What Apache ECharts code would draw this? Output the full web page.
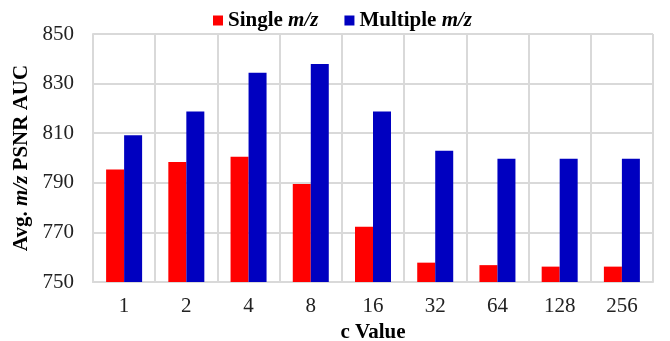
<!DOCTYPE html>
<html><head><meta charset="utf-8">
<script src="https://cdn.jsdelivr.net/npm/echarts@6/dist/echarts.min.js"></script>
<style>html,body{margin:0;padding:0;background:#fff}#c{width:670px;height:341px}</style>
</head><body><div id="c"></div>
<script>
const categories = ['1','2','4','8','16','32','64','128','256'];
const singleMz = [795.4, 798.4, 800.5, 789.5, 772.3, 757.8, 756.8, 756.2, 756.2];
const multipleMz = [809.2, 818.8, 834.4, 837.9, 818.8, 802.9, 799.7, 799.7, 799.7];
const seriesNames = ['Single m/z', 'Multiple m/z'];
const yTicks = {min: 750, max: 850, interval: 20};

const font = 'Liberation Serif';
const FS = 21;
const chart = echarts.init(document.getElementById('c'));
chart.setOption({
  animation: false,
  textStyle: {fontFamily: font},
  legend: {
    top: 5, left: 208, itemWidth: 10, itemHeight: 10, itemGap: 26,
    icon: 'rect',
    formatter: n => n.replace(' m/z', ' {i|m/z}').replace(/^(\S+) /, '{b|$1 }'),
    textStyle: {
      fontFamily: font, fontSize: FS, fontWeight: 'bold', color: '#000',
      rich: {
        b: {fontFamily: font, fontSize: FS, fontWeight: 'bold', color: '#000'},
        i: {fontFamily: font, fontSize: FS, fontWeight: 'bold', fontStyle: 'italic', color: '#000'}
      }
    }
  },
  grid: {left: 93, right: 17, top: 34, bottom: 59, containLabel: false, outerBoundsMode: 'none'},
  xAxis: {
    type: 'category', data: categories,
    name: 'c Value', nameLocation: 'middle', nameGap: 35,
    nameTextStyle: {fontFamily: font, fontSize: FS, fontWeight: 'bold', color: '#000'},
    axisLine: {lineStyle: {color: '#d9d9d9', width: 2}},
    axisTick: {show: false},
    axisLabel: {fontFamily: font, fontSize: FS, color: '#222', margin: 14},
    splitLine: {show: true, interval: 0, lineStyle: {color: '#d9d9d9', width: 2}}
  },
  yAxis: {
    type: 'value', min: yTicks.min, max: yTicks.max, interval: yTicks.interval,
    name: 'Avg. {i|m/z} PSNR AUC', nameLocation: 'middle', nameGap: 60, nameRotate: 90,
    nameTextStyle: {
      fontFamily: font, fontSize: FS, fontWeight: 'bold', color: '#000',
      rich: {i: {fontFamily: font, fontSize: FS, fontWeight: 'bold', fontStyle: 'italic', color: '#000'}}
    },
    axisLine: {show: true, lineStyle: {color: '#d9d9d9', width: 2}},
    axisTick: {show: false},
    axisLabel: {fontFamily: font, fontSize: FS, color: '#222', margin: 19},
    splitLine: {show: true, lineStyle: {color: '#d9d9d9', width: 2}}
  },
  series: [
    {name: seriesNames[0], type: 'bar', data: singleMz, itemStyle: {color: '#ff0000'},
     barWidth: 18, barGap: '0%'},
    {name: seriesNames[1], type: 'bar', data: multipleMz, itemStyle: {color: '#0000c0'},
     barWidth: 18, barGap: '0%'}
  ]
});
</script></body></html>
